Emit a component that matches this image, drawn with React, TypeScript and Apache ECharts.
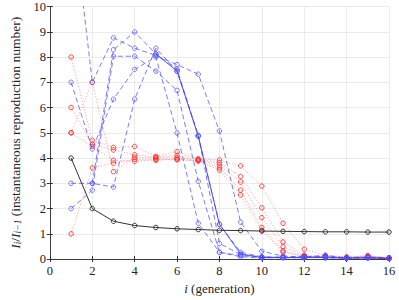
import React, { useEffect, useRef } from "react";
import * as echarts from "echarts";

const generations = [1, 2, 3, 4, 5, 6, 7, 8, 9, 10, 11, 12, 13, 14, 15, 16];
const xTicks = [0, 2, 4, 6, 8, 10, 12, 14, 16];
const yTicks = [0, 1, 2, 3, 4, 5, 6, 7, 8, 9, 10];

const black = [4, 2, 1.5, 1.33, 1.25, 1.2, 1.17, 1.14, 1.13, 1.11, 1.1, 1.09, 1.08, 1.08, 1.07, 1.07];

const blueDashed1 = [14.2, 7.0, 8.76, 8.35, 8.06, 7.7, 7.32, 5.07, 1.46, 0.31, 0.12, 0.08, 0.15, 0.05, 0.08, 0.04];
const blueDashed2 = [3.0, 3.0, 2.85, 6.33, 8.35, 7.44, 4.9, 0.62, 0.18, 0.09, 0.08, 0.1, 0.05, 0.05, 0.06, 0.03];
const blueDashed3 = [2.0, 2.73, 8.03, 8.03, 7.44, 6.68, 3.08, 0.27, 0.14, 0.06, 0.05, 0.06, 0.1, 0.04, 0.05, 0.03];
const blueDashed4 = [7.0, 4.36, 6.33, 7.51, 8.0, 4.99, 1.42, 0.27, 0.09, 0.05, 0.07, 0.05, 0.12, 0.03, 0.05, 0.02];
const blueDashed5 = [null, 3.0, 8.29, 8.99, 8.12, 7.52, 4.87, 1.38, 0.27, 0.09, 0.06, 0.08, 0.06, 0.05, 0.05, 0.03];
const blueSolid = [null, null, null, null, 8.12, 7.44, 4.87, 1.38, 0.2, 0.06, 0.06, 0.06, 0.06, 0.04, 0.05, 0.03];

const red1 = [8, 4.7, 4.42, 4.46, 4.07, 4.25, 3.97, 3.92, 3.69, 2.89, 1.42, 0.39, 0.15, 0.08, 0.12, 0.05];
const red2 = [6, 4.55, 4.32, 4.13, 4.03, 4.1, 3.95, 3.82, 3.27, 2.03, 0.68, 0.16, 0.1, 0.06, 0.1, 0.05];
const red3 = [5, 7.0, 3.46, 4.03, 4.0, 4.01, 3.92, 3.72, 3.05, 1.64, 0.49, 0.12, 0.08, 0.08, 0.14, 0.05];
const red4 = [5, 4.46, 3.91, 3.87, 3.95, 3.93, 3.9, 3.61, 2.73, 1.25, 0.33, 0.1, 0.08, 0.05, 0.1, 0.03];
const red5 = [1, 3.61, 3.8, 3.95, 3.91, 3.96, 3.88, 3.52, 2.54, 1.14, 0.27, 0.1, 0.06, 0.05, 0.08, 0.03];

const SERIF = "'Liberation Serif', 'Times New Roman', serif";
const BLUE = "rgba(80,80,255,0.75)";
const RED = "rgba(255,60,60,0.5)";
const REDM = "rgba(255,40,40,0.85)";

function pairs(arr: (number | null)[]) {
  return generations.map((g, i) => [g, arr[i]]);
}

export default function App() {
  const ref = useRef<HTMLDivElement>(null);
  useEffect(() => {
    if (!ref.current) return;
    const chart = echarts.init(ref.current, null, { renderer: "svg" });
    const mk = (
      data: (number | null)[],
      lineColor: string,
      markColor: string,
      type: any,
      width: number,
      z: number
    ) => ({
      type: "line",
      data: pairs(data),
      symbol: "circle",
      symbolSize: 4.5,
      showSymbol: true,
      showAllSymbol: true,
      z,
      lineStyle: { color: lineColor, width, type },
      itemStyle: { color: "rgba(255,255,255,0)", borderColor: markColor, borderWidth: 1 },
      emphasis: { disabled: true },
      connectNulls: false,
    });
    const series: any[] = [
      mk(red1, RED, REDM, [1.2, 1.8], 0.9, 2),
      mk(red2, RED, REDM, [1.2, 1.8], 0.9, 2),
      mk(red3, RED, REDM, [1.2, 1.8], 0.9, 2),
      mk(red4, RED, REDM, [1.2, 1.8], 0.9, 2),
      mk(red5, RED, REDM, [1.2, 1.8], 0.9, 2),
      mk(blueDashed1, BLUE, BLUE, [5, 3], 1, 3),
      mk(blueDashed2, BLUE, BLUE, [5, 3], 1, 3),
      mk(blueDashed3, BLUE, BLUE, [5, 3], 1, 3),
      mk(blueDashed4, BLUE, BLUE, [5, 3], 1, 3),
      mk(blueDashed5, BLUE, BLUE, [5, 3], 1, 3),
      mk(blueSolid, "rgba(60,60,255,0.85)", BLUE, "solid", 1, 3),
      mk(black, "#333333", "#333333", "solid", 1, 4),
    ];
    chart.setOption({
      animation: false,
      backgroundColor: "#fff",
      grid: { left: 32, right: 10, top: 6, bottom: 33, containLabel: false },
      xAxis: [
        {
          type: "value",
          min: 0,
          max: 16,
          interval: 2,
          name: "{it|i} (generation)",
          nameLocation: "middle",
          nameGap: 20,
          nameTextStyle: {
            fontFamily: SERIF,
            fontSize: 13,
            color: "#222",
            rich: { it: { fontStyle: "italic", fontFamily: SERIF, fontSize: 13, color: "#222" } },
          },
          axisLine: { show: true, lineStyle: { color: "#333", width: 0.8 } },
          axisTick: { show: true, inside: true, length: 3, lineStyle: { color: "#333" } },
          axisLabel: { fontFamily: SERIF, fontSize: 12.5, color: "#222", margin: 5, formatter: (v: number) => (xTicks.includes(v) ? String(v) : "") },
          splitLine: { show: true, lineStyle: { color: "#e6e6e6", width: 0.8 } },
        },
        {
          type: "value",
          position: "top",
          min: 0,
          max: 16,
          interval: 2,
          axisLine: { show: true, lineStyle: { color: "#333", width: 0.8 } },
          axisTick: { show: true, inside: true, length: 3, lineStyle: { color: "#333" } },
          axisLabel: { show: false },
          splitLine: { show: false },
        },
      ],
      yAxis: [
        {
          type: "value",
          min: 0,
          max: 10,
          interval: 1,
          name: "{it|I}{sub|i}/{it|I}{sub|i−1} (instantaneous reproduction number)",
          nameLocation: "middle",
          nameGap: 19,
          nameTextStyle: {
            fontFamily: SERIF,
            fontSize: 13.5,
            color: "#222",
            rich: {
              it: { fontStyle: "italic", fontFamily: SERIF, fontSize: 13.5, color: "#222" },
              sub: { fontStyle: "italic", fontFamily: SERIF, fontSize: 9.5, color: "#222", verticalAlign: "bottom", padding: [5, 0, 0, 0] },
            },
          },
          axisLine: { show: true, lineStyle: { color: "#333", width: 0.8 } },
          axisTick: { show: true, inside: true, length: 3, lineStyle: { color: "#333" } },
          axisLabel: { fontFamily: SERIF, fontSize: 12.5, color: "#222", margin: 4, formatter: (v: number) => (yTicks.includes(v) ? String(v) : "") },
          splitLine: { show: true, lineStyle: { color: "#e6e6e6", width: 0.8 } },
        },
        {
          type: "value",
          position: "right",
          min: 0,
          max: 10,
          interval: 1,
          axisLine: { show: true, lineStyle: { color: "#333", width: 0.8 } },
          axisTick: { show: true, inside: true, length: 3, lineStyle: { color: "#333" } },
          axisLabel: { show: false },
          splitLine: { show: false },
        },
      ],
      series,
    });
    return () => chart.dispose();
  }, []);
  return <div ref={ref} style={{ width: 399, height: 300, position: "absolute", left: 0, top: 0 }} />;
}
